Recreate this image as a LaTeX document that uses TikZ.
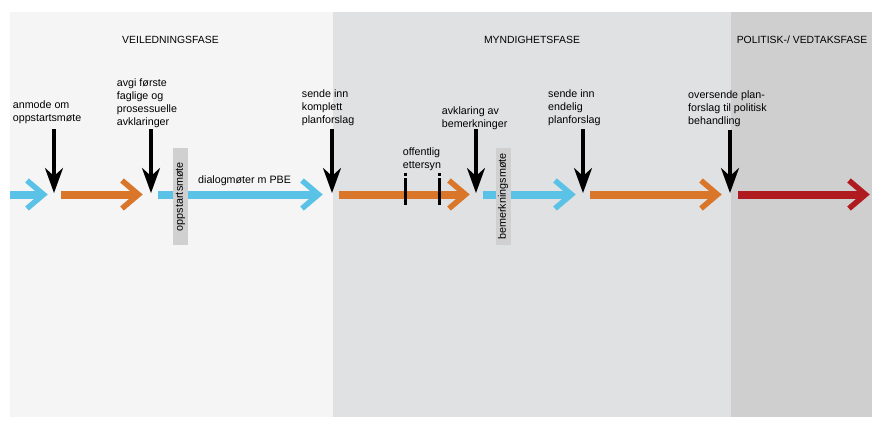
\documentclass[tikz,border=0pt]{standalone}
\usepackage{fontspec}
\setmainfont{Liberation Sans}
\usetikzlibrary{arrows.meta,calc}
\definecolor{pbeblue}{HTML}{5BC2E7}
\definecolor{pbeorange}{HTML}{D9762A}
\definecolor{pbered}{HTML}{AF1B1E}
\definecolor{phaseA}{HTML}{F5F5F5}
\definecolor{phaseB}{HTML}{DFE1E2}
\definecolor{phaseC}{HTML}{CFCFCF}
\definecolor{meetgray}{HTML}{D0D0D0}
\newcommand{\phasearrow}[3]{%
  \draw[phasebar, draw=#1] (#2) -- ($(#3)+(-6,0)$);
  \draw[phasehead, draw=#1] ($(#3)+(-21,-14)$) -- ($(#3)+(-4.5,0)$) -- ($(#3)+(-21,14)$);
}
\begin{document}
\begin{tikzpicture}[x=1pt,y=-1pt,
  lbl/.style={inner sep=0pt, anchor=north west, align=left, font=\fontsize{10.7}{12.9}\selectfont},
  phaselbl/.style={inner sep=0pt, anchor=base, font=\fontsize{10.4}{12}\selectfont},
  phasebar/.style={line width=8pt},
  phasehead/.style={line width=5.5pt, line join=miter},
  callout/.style={line width=3.5pt, -{Stealth[length=25pt,width=18pt,inset=8pt]}},
  ettermark/.style={line width=3pt, dash pattern=on 3pt off 2.5pt on 30pt},
  meetbox/.style={fill=meetgray, rotate=90, minimum width=97pt, minimum height=15pt, inner sep=0pt, font=\fontsize{10.8}{12}\selectfont}]

\useasboundingbox (0,0) rectangle (884,440);
\fill[white] (0,0) rectangle (884,440);
\fill[phaseA] (10,12) rectangle (333,417);
\fill[phaseB] (333,12) rectangle (731,417);
\fill[phaseC] (731,12) rectangle (872,417);

% phase titles
\node[phaselbl] (pA) at (170.5,43) {VEILEDNINGSFASE};
\node[phaselbl] (pB) at (532,43) {MYNDIGHETSFASE};
\node[phaselbl] (pC) at (802,43) {POLITISK-/ VEDTAKSFASE};

% horizontal phase arrows
\coordinate (h1s) at (10,194.5);  \coordinate (h1t) at (48,194.5);
\coordinate (h2s) at (61,194.5);  \coordinate (h2t) at (143,194.5);
\coordinate (h3s) at (158,194.5); \coordinate (h3t) at (323,194.5);
\coordinate (h4s) at (339,194.5); \coordinate (h4t) at (470,194.5);
\coordinate (h5s) at (483,194.5); \coordinate (h5t) at (576,194.5);
\coordinate (h6s) at (590,194.5); \coordinate (h6t) at (722,194.5);
\coordinate (h7s) at (738,194.5); \coordinate (h7t) at (870,194.5);
\phasearrow{pbeblue}{h1s}{h1t}
\phasearrow{pbeorange}{h2s}{h2t}
\phasearrow{pbeblue}{h3s}{h3t}
\phasearrow{pbeorange}{h4s}{h4t}
\phasearrow{pbeblue}{h5s}{h5t}
\phasearrow{pbeorange}{h6s}{h6t}
\phasearrow{pbered}{h7s}{h7t}

% meeting boxes
\node[meetbox] (m1) at (180.5,196.5) {oppstartsmøte};
\node[meetbox] (m2) at (503,196.5) {bemerkningsmøte};

% offentlig ettersyn marks
\coordinate (e1t) at (405.7,172.7); \coordinate (e1b) at (405.7,204.5);
\coordinate (e2t) at (439,172.7);   \coordinate (e2b) at (439,204.5);
\draw[ettermark] (e1t) -- (e1b);
\draw[ettermark] (e2t) -- (e2b);

% labels
\node[lbl] (l1) at (12.7,100.5) {anmode om\\oppstartsmøte};
\node[lbl] (l2) at (116.7,78.4) {avgi første\\faglige og\\prosessuelle\\avklaringer};
\node[lbl] (l3) at (301.7,89.5) {sende inn\\komplett\\planforslag};
\node[lbl] (l4) at (402.7,148) {offentlig\\ettersyn};
\node[lbl] (l5) at (441.7,106.8) {avklaring av\\bemerkninger};
\node[lbl] (l6) at (548,89.5) {sende inn\\endelig\\planforslag};
\node[lbl] (l7) at (688,91) {oversende plan-\\forslag til politisk\\behandling};
\node[lbl, anchor=base west] (l8) at (198,183.5) {dialogmøter m PBE};

% callout arrows
\coordinate (a1s) at (54,129);  \coordinate (a1e) at (54,193);
\coordinate (a2s) at (151,129); \coordinate (a2e) at (151,193);
\coordinate (a3s) at (332,129); \coordinate (a3e) at (332,193);
\coordinate (a4s) at (476,129); \coordinate (a4e) at (476,193);
\coordinate (a5s) at (583,129); \coordinate (a5e) at (583,193);
\coordinate (a6s) at (730,130); \coordinate (a6e) at (730,193);
\foreach \i in {1,...,6} \draw[callout] (a\i s) -- (a\i e);
\end{tikzpicture}
\end{document}
